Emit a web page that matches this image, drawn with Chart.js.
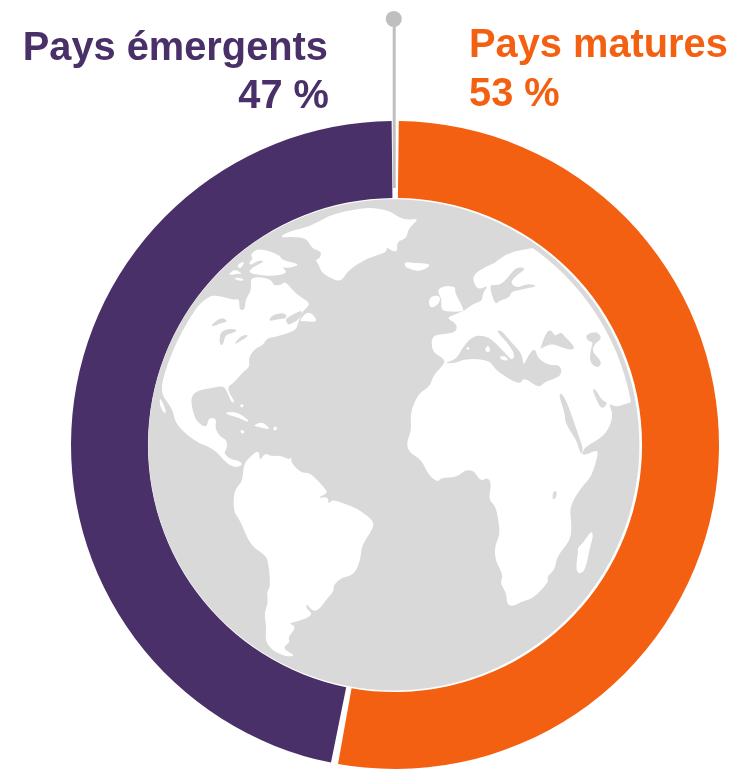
<!DOCTYPE html>
<html lang="fr">
<head>
<meta charset="utf-8">
<title>Pays matures et pays émergents</title>
<script src="https://cdn.jsdelivr.net/npm/chart.js@4"></script>
<style>
  html, body { margin: 0; padding: 0; background: #fff; overflow: hidden; }
  #wrap { width: 733px; height: 769px; }
  canvas { display: block; }
</style>
</head>
<body>
<div id="wrap"><canvas id="chart" width="733" height="769"></canvas></div>
<script>
// Share of activity by type of country, clockwise from the top
const categories = ['Pays matures', 'Pays émergents'];
const shares = [53, 47];
const sliceColors = ['#F46012', '#4A3068'];

const SEA = '#D9D9D9';
const LAND = '#FFFFFF';
const PIN = '#BFBFBF';

// Coastlines of the globe. Each sheet is a local drawing space in 1/3 px units.
const westSheet = { ox: 150, oy: 195 };
const eastSheet = { ox: 395, oy: 195 };
const southWestSheet = { ox: 200, oy: 440 };
const southEastSheet = { ox: 400, oy: 380 };

const land = [
  // Greenland
  [westSheet, [385,128,420,108,480,95,530,66,560,55,640,38,680,40,720,48,735,60,765,75,810,70,775,100,770,130,740,140,743,170,725,168,708,155,712,172,650,190,595,225,575,258,555,255,515,235,505,205,495,195,510,190,515,170,485,160,470,130,430,125]],
  // Canadian Arctic
  [westSheet, [300,180,325,158,390,180,395,195,440,205,445,212,410,220,395,215,415,235,360,245,300,235,298,225,320,210,345,200,325,195,305,210,295,205,310,190]],
  [westSheet, [235,238,255,222,280,238,262,235,245,240]],
  [westSheet, [250,250,268,247,285,255,270,258]],
  [westSheet, [262,208,285,198,275,218,265,220]],
  // North America
  [westSheet, [175,305,200,300,250,315,268,310,268,345,285,345,285,315,305,285,300,250,330,245,365,255,370,272,395,270,405,258,440,300,485,325,460,345,445,378,440,405,395,420,380,425,350,430,340,450,315,460,295,490,300,515,280,530,250,565,232,575,240,600,255,620,245,625,232,590,220,572,180,580,145,585,122,605,128,650,140,680,170,700,175,668,200,670,195,700,210,725,230,735,232,760,165,755,125,730,100,710,75,680,70,650,55,625,30,590,50,510,70,450,100,390,130,345]],
  // Baja California
  [westSheet, [30,605,50,650,42,656,28,628]],
  // Newfoundland
  [westSheet, [445,380,470,350,490,358,503,382,470,378]],
  // Caribbean
  [westSheet, [225,652,260,650,295,675,295,682,265,668,235,660]],
  [westSheet, [308,692,335,680,355,695,358,705,325,695]],
  [westSheet, [270,705,282,705,284,714,274,717]],
  [westSheet, [369,696,380,694,381,705,371,707]],
  [westSheet, [270,628,280,628,280,637,272,637]],
  // Central America
  [southWestSheet, [0,0,80,0,82,25,70,40,95,60,115,60,130,75,100,84,70,60,50,35,15,15]],
  // South America
  [southWestSheet, [130,75,150,50,178,28,178,65,195,38,215,50,240,45,268,60,275,48,272,68,305,100,330,97,380,150,380,160,352,175,385,170,385,195,395,178,430,190,470,205,520,240,520,265,485,315,482,360,462,405,425,412,400,435,402,455,385,470,355,512,335,512,320,490,318,505,335,518,330,530,290,545,265,550,290,560,262,595,272,605,245,625,290,648,255,650,215,630,195,600,200,565,192,520,205,490,200,455,212,440,205,365,195,345,150,315,120,240,100,215,102,150,128,125]],
  // Iceland
  [eastSheet, [28,200,60,205,100,205,105,215,70,230,40,220,30,215]],
  // Great Britain and Ireland
  [eastSheet, [125,285,150,272,183,275,178,290,205,340,205,350,150,350,138,340,140,310]],
  [eastSheet, [100,315,115,300,138,305,130,330,105,340]],
  // Africa and Eurasia
  [eastSheet, [110,420,110,470,145,490,150,505,115,540,105,575,70,595,45,655,50,705,35,740,40,770,80,795,100,840,130,862,137,848,185,847,210,825,237,827,250,850,263,857,277,847,290,865,280,915,300,930,310,970,315,1020,300,1050,300,1095,325,1140,315,1165,335,1195,335,1225,350,1235,380,1220,415,1210,462,1160,455,1145,480,1125,485,1085,527,1035,530,985,523,935,560,875,590,845,610,775,605,765,560,785,565,760,615,730,640,705,655,660,640,622,660,637,700,625,760,600,800,600,800,150,470,150,375,165,330,178,300,205,270,215,235,240,235,262,250,285,282,270,262,295,262,318,235,325,205,350,150,368,185,385,185,410,150,418]]
];

const seas = [
  // Great Lakes and Gulf of St Lawrence
  [westSheet, [183,390,215,365,235,380,210,385,190,395]],
  [westSheet, [210,410,240,400,265,405,245,415,225,420,220,450,208,450]],
  [westSheet, [250,450,275,420,300,420,270,440]],
  [westSheet, [355,380,365,360,405,352,412,370,385,372]],
  [westSheet, [405,375,420,362,462,343,445,375,425,385,415,390]],
  // Baltic
  [eastSheet, [282,270,300,330,312,318,342,308,350,290,375,285,432,272,395,266,365,280,345,262,365,240,395,220,365,215,340,245,320,268,300,270]],
  // Mediterranean
  [eastSheet, [145,505,185,492,200,462,230,425,268,420,298,440,328,472,345,490,352,495,360,478,335,440,303,407,318,405,352,445,382,478,385,515,400,480,420,458,428,490,460,510,498,510,500,545,448,560,432,580,385,545,375,572,300,525,285,495,215,490,180,505]],
  // Black Sea
  [eastSheet, [435,462,455,408,470,405,480,425,497,410,505,420,535,450,538,465,505,460,470,445,440,460]],
  // Caspian
  [eastSheet, [570,420,605,408,622,430,600,445,590,470,622,500,610,520,585,505,585,470,595,440,580,440]],
  // Red Sea and Persian Gulf
  [eastSheet, [490,597,510,655,510,685,545,735,558,783,565,760,550,720,525,645,503,595]],
  [eastSheet, [592,585,600,580,622,618,640,622,620,645,605,615]],
  // Lake Victoria
  [southEastSheet, [458,335,470,332,470,350,458,362]]
];

const isles = [
  // Mediterranean islands
  [eastSheet, [214,458,222,456,224,463,216,465]],
  [eastSheet, [270,460,280,450,288,470,272,472]],
  [eastSheet, [312,485,330,482,342,498,320,495]],
  // Madagascar
  [southEastSheet, [575,450,580,470,570,500,555,575,532,582,528,555,535,515,532,505,550,487]]
];

// Fills each outline with curves through the midpoints of its edges, for soft coasts
function fillOutlines(ctx, items, color) {
  ctx.fillStyle = color;
  for (const [sheet, pts] of items) {
    const n = pts.length / 2;
    const px = i => sheet.ox + pts[(i % n) * 2] / 3;
    const py = i => sheet.oy + pts[(i % n) * 2 + 1] / 3;
    ctx.beginPath();
    ctx.moveTo((px(0) + px(1)) / 2, (py(0) + py(1)) / 2);
    for (let i = 1; i <= n; i++) {
      ctx.quadraticCurveTo(px(i), py(i), (px(i) + px(i + 1)) / 2, (py(i) + py(i + 1)) / 2);
    }
    ctx.closePath();
    ctx.fill();
  }
}

// Globe in the hole of the ring, pin at the top and the two captions
const decorations = {
  id: 'decorations',
  afterDatasetsDraw(chart) {
    const { ctx } = chart;
    const arc = chart.getDatasetMeta(0).data[0];
    const cx = arc.x, cy = arc.y;
    const globeX = cx - 1.2, globeY = cy - 0.2;

    ctx.save();
    ctx.beginPath();
    ctx.arc(globeX, globeY, 245.6, 0, Math.PI * 2);
    ctx.fillStyle = SEA;
    ctx.fill();

    ctx.save();
    ctx.beginPath();
    ctx.arc(globeX + 0.5, globeY, 240.5, 0, Math.PI * 2);
    ctx.clip();
    fillOutlines(ctx, land, LAND);
    fillOutlines(ctx, seas, SEA);
    fillOutlines(ctx, isles, LAND);
    ctx.restore();

    // Pin
    ctx.strokeStyle = PIN;
    ctx.lineWidth = 3;
    ctx.beginPath();
    ctx.moveTo(cx - 0.8, 19);
    ctx.lineTo(cx - 0.8, cy - 257);
    ctx.stroke();
    ctx.fillStyle = PIN;
    ctx.beginPath();
    ctx.arc(cx - 1.2, 19, 8, 0, Math.PI * 2);
    ctx.fill();

    // Captions
    ctx.font = 'bold 39.8px "Liberation Sans", Arial, sans-serif';
    ctx.textBaseline = 'alphabetic';
    ctx.textAlign = 'right';
    ctx.fillStyle = sliceColors[1];
    ctx.fillText(categories[1], 328, 60);
    ctx.fillText(shares[1] + ' %', 329, 108);
    ctx.textAlign = 'left';
    ctx.fillStyle = sliceColors[0];
    ctx.fillText(categories[0], 469, 57);
    ctx.fillText(shares[0] + ' %', 469, 106);
    ctx.restore();
  }
};

new Chart(document.getElementById('chart'), {
  type: 'doughnut',
  data: {
    labels: categories,
    datasets: [{
      data: shares,
      backgroundColor: sliceColors,
      borderWidth: 0,
      spacing: 4
    }]
  },
  options: {
    responsive: false,
    animation: false,
    cutout: '76.1%',
    layout: { padding: { left: 70, right: 13, top: 121, bottom: -1 } },
    plugins: { legend: { display: false }, tooltip: { enabled: false } }
  },
  plugins: [decorations]
});
</script>
</body>
</html>
